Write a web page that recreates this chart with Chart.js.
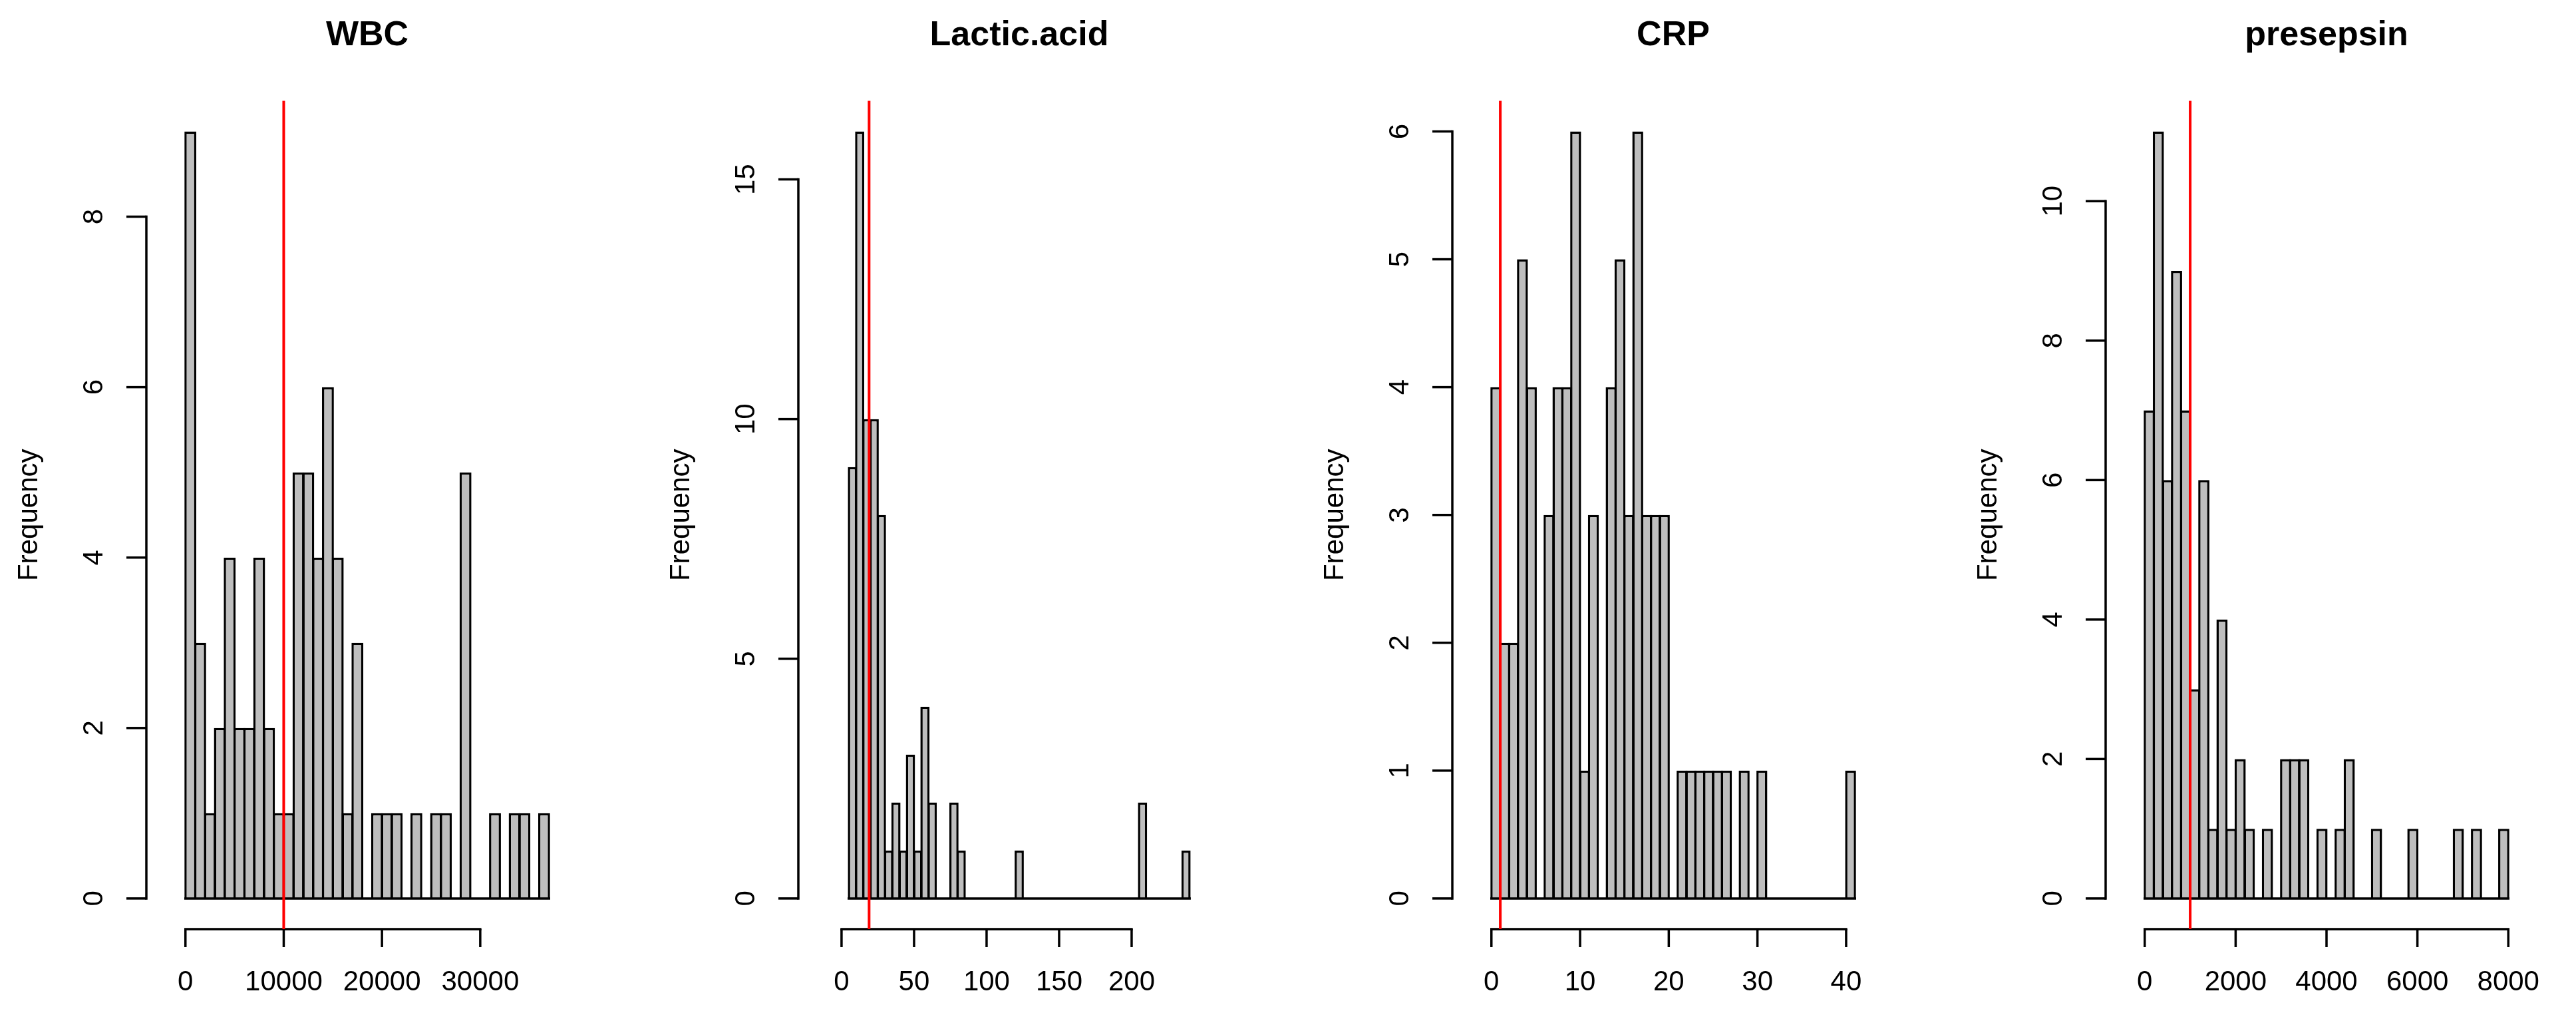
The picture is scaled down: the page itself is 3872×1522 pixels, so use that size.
<!DOCTYPE html>
<html>
<head>
<meta charset="utf-8">
<title>Histograms</title>
<script src="https://cdn.jsdelivr.net/npm/chart.js@4.4.1/dist/chart.umd.min.js"></script>
<style>
  html, body { margin: 0; padding: 0; background: #ffffff; }
  body { width: 3872px; height: 1522px; position: relative; overflow: hidden; }
  canvas { position: absolute; top: 0; }
</style>
</head>
<body>
<canvas id="wbcChart" width="927" height="1522" style="left:0px"></canvas>
<canvas id="lacticChart" width="927" height="1522" style="left:980px"></canvas>
<canvas id="crpChart" width="927" height="1522" style="left:1963px"></canvas>
<canvas id="presepsinChart" width="927" height="1522" style="left:2945px"></canvas>
<script>
// ----------------------------------------------------------------------
// Datos de los histogramas (primer corte, ancho de clase, frecuencias)
// ----------------------------------------------------------------------
const wbcStart = 0;
const wbcBinWidth = 1000;
const wbcCounts = [9, 3, 1, 2, 4, 2, 2, 4, 2, 1, 1, 5, 5, 4, 6, 4, 1, 3, 0, 1,
                   1, 1, 0, 1, 0, 1, 1, 0, 5, 0, 0, 1, 0, 1, 1, 0, 1];
const wbcXTicks = [0, 10000, 20000, 30000];
const wbcYTicks = [0, 2, 4, 6, 8];
const wbcCutoff = 10000;

const lacticStart = 5;
const lacticBinWidth = 5;
const lacticCounts = [9, 16, 10, 10, 8, 1, 2, 1, 3, 1, 4, 2, 0, 0, 2, 1,
                      0, 0, 0, 0, 0, 0, 0, 1, 0, 0, 0, 0, 0, 0, 0, 0,
                      0, 0, 0, 0, 0, 0, 0, 0, 2, 0, 0, 0, 0, 0, 1];
const lacticXTicks = [0, 50, 100, 150, 200];
const lacticYTicks = [0, 5, 10, 15];
const lacticCutoff = 19;

const crpStart = 0;
const crpBinWidth = 1;
const crpCounts = [4, 2, 2, 5, 4, 0, 3, 4, 4, 6, 1, 3, 0, 4, 5, 3, 6, 3, 3, 3,
                   0, 1, 1, 1, 1, 1, 1, 0, 1, 0, 1, 0, 0, 0, 0, 0, 0, 0, 0, 0, 1];
const crpXTicks = [0, 10, 20, 30, 40];
const crpYTicks = [0, 1, 2, 3, 4, 5, 6];
const crpCutoff = 1;

const presepsinStart = 0;
const presepsinBinWidth = 200;
const presepsinCounts = [7, 11, 6, 9, 7, 3, 6, 1, 4, 1, 2, 1, 0, 1, 0, 2, 2, 2, 0, 1,
                         0, 1, 2, 0, 0, 1, 0, 0, 0, 1, 0, 0, 0, 0, 1, 0, 1, 0, 0, 1];
const presepsinXTicks = [0, 2000, 4000, 6000, 8000];
const presepsinYTicks = [0, 2, 4, 6, 8, 10];
const presepsinCutoff = 1000;

// ----------------------------------------------------------------------
// Estilo tipo R (hist + abline)
// ----------------------------------------------------------------------
const FONT = '"Liberation Sans", Arial, sans-serif';
const LINE_W = 3.5;
const PAD = { left: 220, right: 43, top: 0, bottom: 126 };

// Plugin que dibuja los ejes al estilo de R, la línea base y la línea roja
function rAxesPlugin(cfg) {
    return {
        id: 'rAxes',
        afterDatasetsDraw(chart) {
            const ctx = chart.ctx;
            const xs = chart.scales.x;
            const ys = chart.scales.y;
            const area = chart.chartArea;
            const y0 = ys.getPixelForValue(0);
            const end = cfg.start + cfg.width * cfg.counts.length;

            ctx.save();
            ctx.strokeStyle = '#000';
            ctx.fillStyle = '#000';
            ctx.lineWidth = LINE_W;
            ctx.lineCap = 'butt';

            // línea base del histograma
            ctx.beginPath();
            ctx.moveTo(xs.getPixelForValue(cfg.start) - LINE_W / 2, y0);
            ctx.lineTo(xs.getPixelForValue(end) + LINE_W / 2, y0);
            ctx.stroke();

            // eje x
            const xFirst = xs.getPixelForValue(cfg.xTicks[0]);
            const xLast = xs.getPixelForValue(cfg.xTicks[cfg.xTicks.length - 1]);
            ctx.beginPath();
            ctx.moveTo(xFirst - LINE_W / 2, area.bottom);
            ctx.lineTo(xLast + LINE_W / 2, area.bottom);
            ctx.stroke();
            ctx.font = '42px ' + FONT;
            ctx.textAlign = 'center';
            ctx.textBaseline = 'middle';
            cfg.xTicks.forEach(v => {
                const px = xs.getPixelForValue(v);
                ctx.beginPath();
                ctx.moveTo(px, area.bottom);
                ctx.lineTo(px, area.bottom + 27);
                ctx.stroke();
                ctx.fillText(String(v), px, area.bottom + 80);
            });

            // eje y
            const yFirst = ys.getPixelForValue(cfg.yTicks[0]);
            const yLast = ys.getPixelForValue(cfg.yTicks[cfg.yTicks.length - 1]);
            ctx.beginPath();
            ctx.moveTo(area.left, yFirst + LINE_W / 2);
            ctx.lineTo(area.left, yLast - LINE_W / 2);
            ctx.stroke();
            cfg.yTicks.forEach(v => {
                const py = ys.getPixelForValue(v);
                ctx.beginPath();
                ctx.moveTo(area.left - 30, py);
                ctx.lineTo(area.left, py);
                ctx.stroke();
                ctx.save();
                ctx.translate(area.left - 78, py);
                ctx.rotate(-Math.PI / 2);
                ctx.fillText(String(v), 0, 0);
                ctx.restore();
            });

            // etiqueta del eje y
            ctx.save();
            ctx.translate(area.left - 176, (area.top + area.bottom) / 2);
            ctx.rotate(-Math.PI / 2);
            ctx.fillText('Frequency', 0, 0);
            ctx.restore();

            // línea de corte (abline roja)
            const cx = xs.getPixelForValue(cfg.cutoff);
            ctx.strokeStyle = '#ff0000';
            ctx.lineWidth = 4;
            ctx.beginPath();
            ctx.moveTo(cx, area.top);
            ctx.lineTo(cx, area.bottom);
            ctx.stroke();
            ctx.restore();
        }
    };
}

function crearHistograma(canvasId, cfg) {
    const canvas = document.getElementById(canvasId);
    if (!canvas) return;

    const n = cfg.counts.length;
    const end = cfg.start + cfg.width * n;
    const range = end - cfg.start;
    const maxCount = Math.max(...cfg.counts);
    const plotWidth = canvas.width - PAD.left - PAD.right;
    const binPx = plotWidth / (range * 1.08) * cfg.width;

    new Chart(canvas, {
        type: 'bar',
        data: {
            datasets: [{
                label: cfg.title,
                data: cfg.counts.map((c, i) => ({ x: cfg.start + cfg.width * (i + 0.5), y: c })),
                backgroundColor: '#bebebe',
                borderColor: '#000000',
                borderWidth: LINE_W,
                borderSkipped: 'start',
                barPercentage: 1 + LINE_W / binPx, // bordes centrados en los cortes, como R
                categoryPercentage: 1,
                inflateAmount: 0
            }]
        },
        options: {
            responsive: false,
            animation: false,
            events: [],
            layout: { padding: PAD },
            scales: {
                x: {
                    type: 'linear',
                    display: false,
                    min: cfg.start - 0.04 * range,
                    max: end + 0.04 * range
                },
                y: {
                    type: 'linear',
                    display: false,
                    min: -0.04 * maxCount,
                    max: 1.04 * maxCount
                }
            },
            plugins: {
                legend: { display: false },
                tooltip: { enabled: false },
                title: {
                    display: true,
                    text: cfg.title,
                    color: '#000000',
                    font: { family: FONT, size: 52, weight: 'bold', lineHeight: 1.2 },
                    padding: { top: 22, bottom: 67 }
                }
            }
        },
        plugins: [rAxesPlugin(cfg)]
    });
}

crearHistograma('wbcChart', {
    title: 'WBC', start: wbcStart, width: wbcBinWidth, counts: wbcCounts,
    xTicks: wbcXTicks, yTicks: wbcYTicks, cutoff: wbcCutoff
});
crearHistograma('lacticChart', {
    title: 'Lactic.acid', start: lacticStart, width: lacticBinWidth, counts: lacticCounts,
    xTicks: lacticXTicks, yTicks: lacticYTicks, cutoff: lacticCutoff
});
crearHistograma('crpChart', {
    title: 'CRP', start: crpStart, width: crpBinWidth, counts: crpCounts,
    xTicks: crpXTicks, yTicks: crpYTicks, cutoff: crpCutoff
});
crearHistograma('presepsinChart', {
    title: 'presepsin', start: presepsinStart, width: presepsinBinWidth, counts: presepsinCounts,
    xTicks: presepsinXTicks, yTicks: presepsinYTicks, cutoff: presepsinCutoff
});
</script>
</body>
</html>
